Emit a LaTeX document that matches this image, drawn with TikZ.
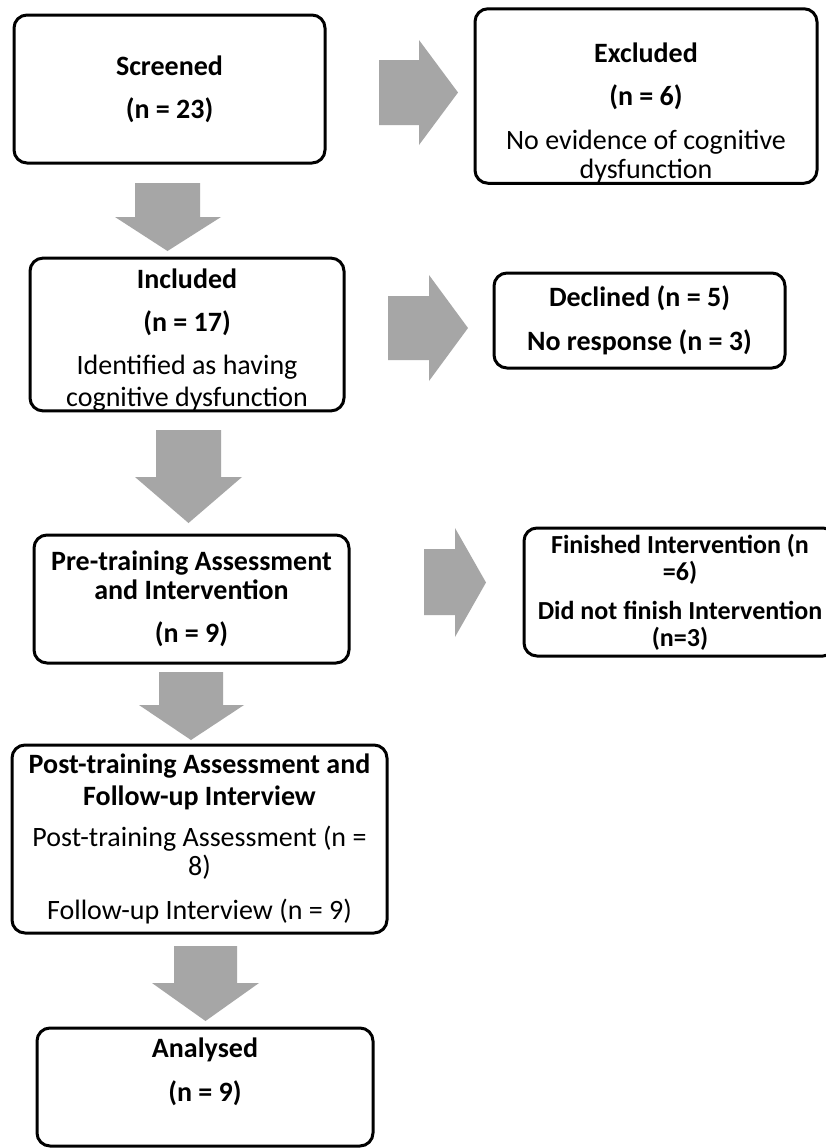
\documentclass[tikz,border=0pt]{standalone}
\usepackage{fontspec}
\setmainfont{Carlito}
\definecolor{arrowgray}{HTML}{A6A6A6}
\newcommand{\DArrow}[7]{\fill[arrowgray] (#1,#3) -- (#2,#3) -- (#2,#4) -- (#6,#4) -- ({(#1+#2)/2},#7) -- (#5,#4) -- (#1,#4) -- cycle;}
\newcommand{\RArrow}[7]{\fill[arrowgray] (#1,#3) -- (#2,#3) -- (#2,#5) -- (#7,{(#5+#6)/2}) -- (#2,#6) -- (#2,#4) -- (#1,#4) -- cycle;}
\begin{document}
\begin{tikzpicture}[x=0.5pt,y=-0.5pt,
  box/.style={draw=black, line width=1.5pt, rounded corners=6.5pt, align=center, inner sep=0pt,
    font=\fontsize{14}{14.5}\selectfont},
  smallbox/.style={box, font=\fontsize{13}{13.5}\selectfont}]
\clip (0,0) rectangle (826,1148);
\fill[white] (0,0) rectangle (826,1148);
% boxes
\node[box, minimum width=155.5pt, minimum height=74pt] (scr) at (169.5,89)
  {\bfseries Screened\\[7pt]\bfseries (n = 23)};
\node[box, minimum width=171pt, minimum height=86pt] (exc) at (646,96)
  {\rule{0pt}{27pt}\bfseries Excluded\\[7pt]\bfseries (n = 6)\\[7.5pt]No evidence of cognitive\\dysfunction};
\node[box, minimum width=157pt, minimum height=72.5pt] (inc) at (187,334.5)
  {\rule{0pt}{15pt}\bfseries Included\\[7pt]\bfseries (n = 17)\\[7pt]Identified as having\\[1.5pt]cognitive dysfunction};
\node[box, minimum width=145.5pt, minimum height=47.5pt] (dec) at (639.5,320.5)
  {\bfseries Declined (n = 5)\\[7.5pt]\bfseries No response (n = 3)};
\node[box, minimum width=157.5pt, minimum height=64pt] (pre) at (191.5,599)
  {\bfseries Pre-training Assessment\\\bfseries and Intervention\\[7pt]\bfseries (n = 9)};
\node[smallbox, minimum width=156pt, minimum height=64pt] (fin) at (680,592)
  {\bfseries Finished Intervention (n\\\bfseries =6)\\[6pt]\bfseries Did not finish Intervention\\\bfseries (n=3)};
\node[box, minimum width=187.5pt, minimum height=94pt] (post) at (199.5,839)
  {\bfseries Post-training Assessment and\\[1.5pt]\bfseries Follow-up Interview\\[6pt]Post-training Assessment (n =\\8)\\[7.5pt]Follow-up Interview (n = 9)};
\node[box, minimum width=168pt, minimum height=59pt] (ana) at (205,1087)
  {\bfseries Analysed\\[7.5pt]\bfseries (n = 9)\rule[-17.5pt]{0pt}{1pt}};
% block arrows
\RArrow{379}{419}{60}{125}{40}{145}{458}
\DArrow{135}{200}{183}{217}{115}{221}{251}
\RArrow{388}{429}{296}{360}{275}{381}{468}
\DArrow{156}{221}{430}{477}{135}{242}{523}
\RArrow{424}{455}{549}{615}{528}{637}{486}
\DArrow{159}{223}{672}{705}{139}{244}{740}
\DArrow{174}{237}{946}{983}{152}{259}{1021}
\end{tikzpicture}
\end{document}
